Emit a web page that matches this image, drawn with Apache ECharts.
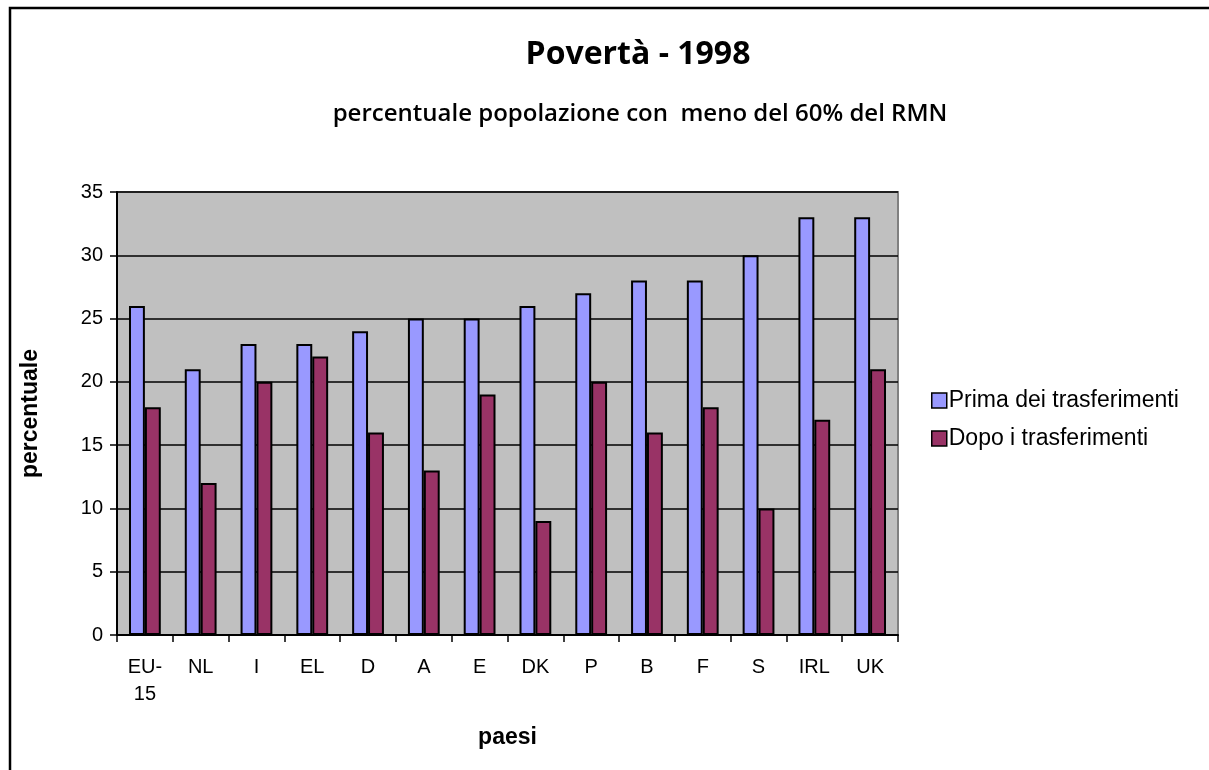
<!DOCTYPE html>
<html>
<head>
<meta charset="utf-8">
<script src="https://cdn.jsdelivr.net/npm/echarts@6/dist/echarts.min.js"></script>
<style>
  html, body { margin: 0; padding: 0; background: #fff; }
  #chart { width: 1209px; height: 770px; }
</style>
</head>
<body>
<div id="chart"></div>
<script>
// Countries (EU-15 average first)
const categories = ['EU-\n15', 'NL', 'I', 'EL', 'D', 'A', 'E', 'DK', 'P', 'B', 'F', 'S', 'IRL', 'UK'];
// Share of population below 60% of median income, before social transfers
const primaValues = [26, 21, 23, 23, 24, 25, 25, 26, 27, 28, 28, 30, 33, 33];
// Same share after social transfers
const dopoValues = [18, 12, 20, 22, 16, 13, 19, 9, 20, 16, 18, 10, 17, 21];
const seriesNames = ['Prima dei trasferimenti', 'Dopo i trasferimenti'];

const chart = echarts.init(document.getElementById('chart'), null, { renderer: 'canvas' });

const font = '"Liberation Sans", Arial, sans-serif';

chart.setOption({
  animation: false,
  backgroundColor: '#ffffff',
  graphic: [
    {
      type: 'rect',
      shape: { x: 10, y: 8, width: 1400, height: 900 },
      style: { fill: 'none', stroke: '#000', lineWidth: 2.5 },
      silent: true,
      z: 100
    }
  ],
  title: [
    {
      text: 'Povertà - 1998',
      left: 633, top: 34, textAlign: 'center',
      textStyle: { fontFamily: '"Open Sans", sans-serif', fontWeight: 'bold', fontSize: 32, color: '#000' }
    },
    {
      text: 'percentuale popolazione con  meno del 60% del RMN',
      left: 635, top: 97, textAlign: 'center',
      textStyle: { fontFamily: '"Open Sans", sans-serif', fontWeight: 600, fontSize: 24, color: '#000' }
    }
  ],
  legend: {
    orient: 'vertical',
    left: 926, top: 384,
    itemWidth: 15, itemHeight: 15, itemGap: 15,
    icon: 'rect',
    textStyle: { fontFamily: font, fontSize: 23, color: '#000', padding: [0, 0, 0, -3] },
    itemStyle: { borderColor: '#000', borderWidth: 1.5 },
    data: seriesNames
  },
  grid: { left: 117, right: 311, top: 192, bottom: 135, show: true, backgroundColor: '#c0c0c0', borderColor: '#808080', borderWidth: 2 },
  xAxis: {
    type: 'category',
    data: categories,
    name: 'paesi',
    nameLocation: 'middle',
    nameGap: 91,
    nameTextStyle: { fontFamily: font, fontWeight: 'bold', fontSize: 23, color: '#000' },
    axisLine: { lineStyle: { color: '#000', width: 2 } },
    axisTick: { show: true, length: 7, lineStyle: { color: '#000', width: 1.5 } },
    axisLabel: { fontFamily: font, fontSize: 20, color: '#000', margin: 19, lineHeight: 27, interval: 0 }
  },
  yAxis: {
    type: 'value',
    min: 0, max: 35, interval: 5,
    name: 'percentuale',
    nameLocation: 'middle',
    nameGap: 75,
    nameRotate: 90,
    nameTextStyle: { fontFamily: font, fontWeight: 'bold', fontSize: 23, color: '#000' },
    axisLine: { show: true, lineStyle: { color: '#000', width: 2 } },
    axisTick: { show: true, length: 7, lineStyle: { color: '#000', width: 1.5 } },
    axisLabel: { fontFamily: font, fontSize: 20, color: '#000', margin: 14 },
    splitLine: { show: true, lineStyle: { color: '#000', width: 1.5 } }
  },
  series: [
    {
      name: seriesNames[0],
      type: 'bar',
      data: primaValues,
      barGap: '0%',
      barCategoryGap: '43%',
      itemStyle: { color: '#9999ff', borderColor: '#000', borderWidth: 2 }
    },
    {
      name: seriesNames[1],
      type: 'bar',
      data: dopoValues,
      itemStyle: { color: '#993366', borderColor: '#000', borderWidth: 2 }
    }
  ]
});
</script>
</body>
</html>
